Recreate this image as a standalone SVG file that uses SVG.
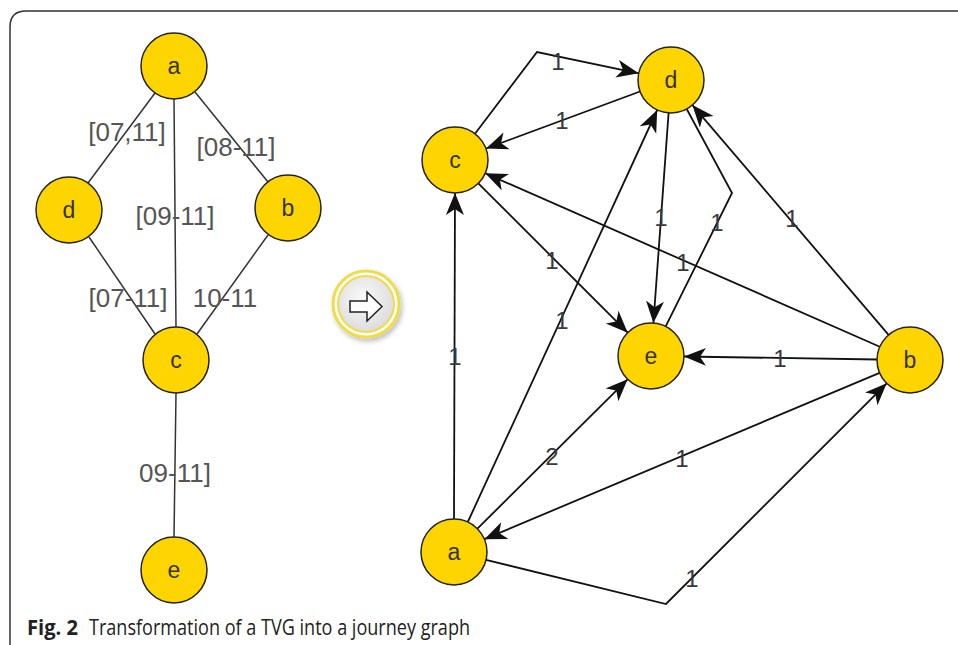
<svg xmlns="http://www.w3.org/2000/svg" width="958" height="645" viewBox="0 0 958 645">
  <defs>
    <style>
      .node circle { fill: #FFD500; stroke: #222; stroke-width: 1.5; }
      .node text { font-family: "Liberation Sans", Arial, sans-serif; font-size: 23px; fill: #333; text-anchor: middle; }
      .tvg line { stroke: #333; stroke-width: 1.5; }
      .jg line, .jg polyline { stroke: #111; stroke-width: 1.8; fill: none; }
      .jg .arr { marker-end: url(#head); }
      .lbl { font-family: "Liberation Sans", Arial, sans-serif; font-size: 26px; fill: #555; text-anchor: middle; }
      .wt { font-family: "Liberation Sans", Arial, sans-serif; font-size: 24px; fill: #3a3a3a; text-anchor: middle; }
      .cap { font-family: "Open Sans", "Noto Sans", sans-serif; font-size: 21.5px; fill: #222; }
    </style>
    <marker id="head" markerUnits="userSpaceOnUse" markerWidth="24" markerHeight="20" refX="22" refY="9" orient="auto">
      <path d="M0,0 L22,9 L0,18 L6,9 Z" fill="#111"/>
    </marker>
    <radialGradient id="btnFill" cx="0.45" cy="0.4" r="0.6">
      <stop offset="0" stop-color="#fafafa"/>
      <stop offset="1" stop-color="#dcdcdc"/>
    </radialGradient>
    <filter id="shadow" x="-30%" y="-30%" width="160%" height="160%">
      <feDropShadow dx="2" dy="3" stdDeviation="2.5" flood-color="#000" flood-opacity="0.25"/>
    </filter>
  </defs>

  <rect width="958" height="645" fill="#fff"/>

  <!-- figure frame: top and left edges with rounded corner -->
  <path d="M10,645 L10,27 Q10,11 26,11 L958,11" fill="none" stroke="#333" stroke-width="1.5"/>

  <!-- time-varying graph: edges -->
  <g id="tvg-edges" class="tvg">
    <line x1="155" y1="93" x2="88" y2="183"/>
    <line x1="174" y1="99" x2="176" y2="327"/>
    <line x1="195" y1="92" x2="268" y2="182"/>
    <line x1="89" y1="237" x2="155" y2="334"/>
    <line x1="268" y1="235" x2="197" y2="334"/>
    <line x1="176" y1="393" x2="174" y2="537"/>
  </g>
  <g id="tvg-labels">
    <text class="lbl" x="127" y="141">[07,11]</text>
    <text class="lbl" x="236" y="156">[08-11]</text>
    <text class="lbl" x="175" y="225">[09-11]</text>
    <text class="lbl" x="128" y="307">[07-11]</text>
    <text class="lbl" x="225" y="307">10-11</text>
    <text class="lbl" x="175" y="482">09-11]</text>
  </g>
  <g id="tvg-a" class="node"><circle cx="174" cy="66" r="33"/><text x="174" y="74">a</text></g>
  <g id="tvg-d" class="node"><circle cx="69" cy="210" r="33"/><text x="69" y="218">d</text></g>
  <g id="tvg-b" class="node"><circle cx="288" cy="208" r="33"/><text x="288" y="216">b</text></g>
  <g id="tvg-c" class="node"><circle cx="176" cy="360" r="33"/><text x="176" y="368">c</text></g>
  <g id="tvg-e" class="node"><circle cx="174" cy="570" r="33"/><text x="174" y="578">e</text></g>

  <!-- transformation button -->
  <g id="transform-button">
    <circle cx="366" cy="304" r="33" fill="#fff" stroke="#EEDC4A" stroke-width="3" filter="url(#shadow)"/>
    <circle cx="366" cy="304" r="28" fill="url(#btnFill)" stroke="#EEDC4A" stroke-width="2"/>
    <path d="M350,301 L367,301 L367,292 L382,306.5 L367,321 L367,312 L350,312 Z" fill="#fff" stroke="#222" stroke-width="1.5" stroke-linejoin="miter"/>
  </g>

  <!-- journey graph: edges -->
  <g id="jg-edges" class="jg">
    <polyline class="arr" points="475,133.7 537,52 638.7,73.3"/>
    <line class="arr" x1="640" y1="91.5" x2="486" y2="148.5"/>
    <line class="arr" x1="454" y1="519" x2="455" y2="193"/>
    <line class="arr" x1="478.3" y1="183.3" x2="627.7" y2="332.7"/>
    <line class="arr" x1="879.8" y1="346.7" x2="485.2" y2="173.3"/>
    <line class="arr" x1="668.6" y1="112.9" x2="653.4" y2="323.1"/>
    <polyline points="665.7,326.4 732,193 686.7,109"/>
    <line class="arr" x1="888.6" y1="334.9" x2="692.4" y2="105.1"/>
    <line class="arr" x1="877" y1="359.5" x2="684" y2="356.5"/>
    <line class="arr" x1="467.8" y1="522" x2="657.2" y2="110"/>
    <line class="arr" x1="477.4" y1="528.7" x2="627.6" y2="379.3"/>
    <line class="arr" x1="879.6" y1="372.8" x2="484.4" y2="539.2"/>
    <polyline class="arr" points="486,559.9 666,604 886.7,383.3"/>
  </g>
  <g id="jg-labels">
    <text class="wt" x="558" y="70">1</text>
    <text class="wt" x="562" y="129">1</text>
    <text class="wt" x="455" y="365">1</text>
    <text class="wt" x="552" y="269">1</text>
    <text class="wt" x="683" y="271">1</text>
    <text class="wt" x="661" y="226">1</text>
    <text class="wt" x="717" y="231">1</text>
    <text class="wt" x="792" y="227">1</text>
    <text class="wt" x="780" y="367">1</text>
    <text class="wt" x="562" y="329">1</text>
    <text class="wt" x="552" y="465" font-size="28">2</text>
    <text class="wt" x="682" y="467">1</text>
    <text class="wt" x="692" y="587">1</text>
  </g>
  <g id="jg-c" class="node"><circle cx="455" cy="160" r="33"/><text x="455" y="168">c</text></g>
  <g id="jg-d" class="node"><circle cx="671" cy="80" r="33"/><text x="671" y="88">d</text></g>
  <g id="jg-e" class="node"><circle cx="651" cy="356" r="33"/><text x="651" y="364">e</text></g>
  <g id="jg-b" class="node"><circle cx="910" cy="360" r="33"/><text x="910" y="368">b</text></g>
  <g id="jg-a" class="node"><circle cx="454" cy="552" r="33"/><text x="454" y="560">a</text></g>

  <!-- caption -->
  <text class="cap" y="635"><tspan x="27" font-weight="bold" textLength="51" lengthAdjust="spacingAndGlyphs">Fig. 2</tspan><tspan x="89" textLength="381" lengthAdjust="spacingAndGlyphs">Transformation of a TVG into a journey graph</tspan></text>
</svg>
